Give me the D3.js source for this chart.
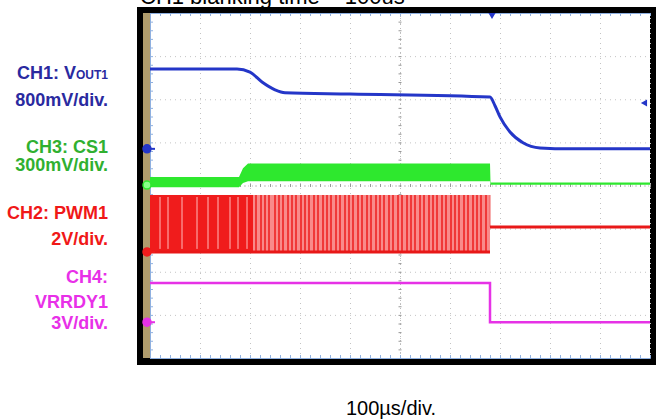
<!DOCTYPE html>
<html>
<head>
<meta charset="utf-8">
<script src="https://cdn.jsdelivr.net/npm/d3@7"></script>
<style>
  body { margin: 0; background: #fff; }
  svg { display: block; }
</style>
</head>
<body>
<script>
// time in us (10 div x 100us), amplitude in screen divisions (-4..4)
var ch1Time = [0, 174, 200, 224, 250, 270, 400, 680, 690, 700, 720, 746, 780, 840, 1000];
var ch1Div  = [2.70, 2.70, 2.63, 2.40, 2.22, 2.15, 2.12, 2.05, 1.85, 1.59, 1.24, 0.99, 0.87, 0.85, 0.85];

var ch3Time = [0, 178, 186, 196, 680, 681, 1000];
var ch3Hi   = [0.20, 0.20, 0.40, 0.51, 0.51, 0.07, 0.07];
var ch3Lo   = [-0.04, -0.04, 0.06, 0.10, 0.10, 0.02, 0.02];

var pwmHigh = -0.22;
var pwmLow = -1.54;
var pwmEnd = 680;
var pwmDenseEnd = 206;
var pwmAfter = -0.96;
var pwmGaps = [20, 36, 64, 94, 116, 136, 160, 176, 194];
var pwmLines = [212, 222, 230, 238, 250, 258, 266, 276, 284, 292, 302, 310, 318, 328, 336, 346,
  354, 362, 372, 380, 390, 398, 406, 416, 424, 434, 442, 452, 460, 468, 478, 486, 496, 504,
  514, 522, 530, 540, 548, 558, 566, 574, 584, 592, 602, 610, 618, 628, 636, 646, 654, 662, 672];

var ch4Time = [0, 680, 680, 1000];
var ch4Div  = [-2.26, -2.26, -3.17, -3.17];

var markerDiv = [0.85, 0.01, -1.54, -3.17];
var markerColors = ['#2436c8', '#2ee82e', '#f01c1c', '#e632e6'];

var width = 658, height = 419;

var svg = d3.select("body").append("svg")
  .attr("width", width)
  .attr("height", height);

var x = d3.scaleLinear().domain([0, 1000]).range([150, 650]);
var y = d3.scaleLinear().domain([-4, 4]).range([358, 13]);

// title cut off at top
svg.append("text")
  .attr("x", 140).attr("y", 4)
  .style("font-family", "Liberation Sans, Arial, sans-serif")
  .style("font-size", "22px")
  .text("CH1 blanking time = 100us");

// scope frame
svg.append("rect").attr("x", 137).attr("y", 7).attr("width", 519).attr("height", 358).attr("fill", "#000");
svg.append("rect").attr("x", 143).attr("y", 13).attr("width", 7).attr("height", 345).attr("fill", "#b09c6c");
svg.append("rect").attr("x", 150).attr("y", 13).attr("width", 500).attr("height", 345).attr("fill", "#fff");

// grid
var grid = svg.append("g");
grid.append("g").attr("transform", "translate(0,13)")
  .call(d3.axisBottom(x).ticks(10).tickSize(345).tickFormat(""))
  .call(g => g.select(".domain").remove())
  .selectAll("line").attr("stroke", "#c4c4c4").attr("stroke-dasharray", "1,4");
grid.append("g").attr("transform", "translate(150,0)")
  .call(d3.axisRight(y).ticks(8).tickSize(500).tickFormat(""))
  .call(g => g.select(".domain").remove())
  .selectAll("line").attr("stroke", "#c4c4c4").attr("stroke-dasharray", "1,4");

// centre axes and edges with minor ticks
var minorX = d3.range(0, 1001, 20);
var minorY = d3.range(-4, 4.01, 0.2);
grid.append("g").attr("transform", "translate(0," + y(0) + ")")
  .call(d3.axisBottom(x).tickValues(minorX).tickSize(3).tickFormat(""))
  .call(g => g.select(".domain").attr("stroke", "#bbb").attr("stroke-dasharray", "1,3"))
  .selectAll("line").attr("stroke", "#999").attr("transform", "translate(0,-1.5)");
grid.append("g").attr("transform", "translate(" + x(500) + ",0)")
  .call(d3.axisRight(y).tickValues(minorY).tickSize(3).tickFormat(""))
  .call(g => g.select(".domain").attr("stroke", "#bbb").attr("stroke-dasharray", "1,3"))
  .selectAll("line").attr("stroke", "#999").attr("transform", "translate(-1.5,0)");
grid.append("g").attr("transform", "translate(0,358)")
  .call(d3.axisTop(x).tickValues(minorX).tickSize(3).tickFormat(""))
  .call(g => g.select(".domain").attr("stroke", "#8fb0e0"))
  .selectAll("line").attr("stroke", "#8fb0e0");
grid.append("g").attr("transform", "translate(0,13)")
  .call(d3.axisBottom(x).tickValues(minorX).tickSize(3).tickFormat(""))
  .call(g => g.select(".domain").attr("stroke", "#8fb0e0"))
  .selectAll("line").attr("stroke", "#8fb0e0");
grid.append("g").attr("transform", "translate(150,0)")
  .call(d3.axisRight(y).tickValues(minorY).tickSize(3).tickFormat(""))
  .call(g => g.select(".domain").attr("stroke", "#8fb0e0"))
  .selectAll("line").attr("stroke", "#8fb0e0");

// CH2 PWM
var pwm = svg.append("g");
pwm.append("rect")
  .attr("x", x(0)).attr("y", y(pwmHigh))
  .attr("width", x(pwmDenseEnd) - x(0)).attr("height", y(pwmLow) - y(pwmHigh))
  .attr("fill", "#f01c1c");
pwm.append("rect")
  .attr("x", x(pwmDenseEnd)).attr("y", y(pwmHigh))
  .attr("width", x(pwmEnd) - x(pwmDenseEnd)).attr("height", y(pwmLow) - y(pwmHigh))
  .attr("fill", "#f98a8a");
pwm.selectAll(".gap").data(pwmGaps).enter().append("line")
  .attr("x1", d => x(d)).attr("x2", d => x(d))
  .attr("y1", y(pwmHigh) + 2).attr("y2", y(pwmLow) - 3)
  .attr("stroke", "#fbb").attr("stroke-width", 1);
pwm.selectAll(".pl").data(pwmLines).enter().append("line")
  .attr("x1", d => x(d)).attr("x2", d => x(d))
  .attr("y1", y(pwmHigh)).attr("y2", y(pwmLow))
  .attr("stroke", "#ee2424").attr("stroke-width", 1.6);
pwm.append("line")
  .attr("x1", x(0)).attr("x2", x(pwmEnd)).attr("y1", y(pwmLow)).attr("y2", y(pwmLow))
  .attr("stroke", "#e81818").attr("stroke-width", 3);
pwm.append("line")
  .attr("x1", x(pwmEnd)).attr("x2", x(pwmEnd)).attr("y1", y(pwmHigh)).attr("y2", y(pwmAfter))
  .attr("stroke", "#f06060").attr("stroke-width", 1);
pwm.append("line")
  .attr("x1", x(pwmEnd)).attr("x2", x(1000)).attr("y1", y(pwmAfter)).attr("y2", y(pwmAfter))
  .attr("stroke", "#e81818").attr("stroke-width", 3);

// CH3 band
var ch3 = ch3Time.map((t, i) => ({ t: t, hi: ch3Hi[i], lo: ch3Lo[i] }));
svg.append("path").datum(ch3)
  .attr("d", d3.area().x(d => x(d.t)).y0(d => y(d.lo)).y1(d => y(d.hi)))
  .attr("fill", "#2ee82e");

// CH1
var ch1 = ch1Time.map((t, i) => [t, ch1Div[i]]);
svg.append("path").datum(ch1)
  .attr("d", d3.line().x(d => x(d[0])).y(d => y(d[1])).curve(d3.curveMonotoneX))
  .attr("fill", "none").attr("stroke", "#2436c8").attr("stroke-width", 3);

// CH4
var ch4 = ch4Time.map((t, i) => [t, ch4Div[i]]);
svg.append("path").datum(ch4)
  .attr("d", d3.line().x(d => x(d[0])).y(d => y(d[1])))
  .attr("fill", "none").attr("stroke", "#e632e6").attr("stroke-width", 2.5);

// channel ground markers
markerDiv.forEach(function (d, i) {
  svg.append("line").attr("x1", 147).attr("x2", 155).attr("y1", y(d)).attr("y2", y(d))
    .attr("stroke", markerColors[i]).attr("stroke-width", 2);
  svg.append("circle").attr("cx", 147).attr("cy", y(d)).attr("r", 4)
    .attr("fill", i == 1 ? "#8f8" : markerColors[i])
    .attr("stroke", markerColors[i]).attr("stroke-width", 1.5);
});

// trigger markers
svg.append("path").attr("d", d3.symbol(d3.symbolTriangle, 22)())
  .attr("transform", "translate(492,15) rotate(180)").attr("fill", "#2436c8");
svg.append("path").attr("d", d3.symbol(d3.symbolTriangle, 22)())
  .attr("transform", "translate(645,103) rotate(-90)").attr("fill", "#2436c8");

// channel labels
var labelFont = "Liberation Sans, Arial, sans-serif";
var labels = [
  { text: "CH1: V", sub: "OUT1", y: 79, color: "#2a2aa0" },
  { text: "800mV/div.", y: 106, color: "#2a2aa0" },
  { text: "CH3: CS1", y: 153, color: "#30b030" },
  { text: "300mV/div.", y: 171, color: "#30b030" },
  { text: "CH2: PWM1", y: 219, color: "#f01818" },
  { text: "2V/div.", y: 245, color: "#f01818" },
  { text: "CH4:", y: 283, color: "#e830e8" },
  { text: "VRRDY1", y: 308, color: "#e830e8" },
  { text: "3V/div.", y: 329, color: "#e830e8" }
];
labels.forEach(function (l) {
  var t = svg.append("text")
    .attr("x", 108).attr("y", l.y)
    .attr("text-anchor", "end")
    .style("font-family", labelFont)
    .style("font-weight", "bold")
    .style("font-size", "18px")
    .attr("fill", l.color);
  t.append("tspan").text(l.text);
  if (l.sub) t.append("tspan").style("font-size", "12px").text(l.sub);
});

svg.append("text")
  .attr("x", 391).attr("y", 415)
  .attr("text-anchor", "middle")
  .style("font-family", labelFont)
  .style("font-size", "20px")
  .text("100µs/div.");
</script>
</body>
</html>
